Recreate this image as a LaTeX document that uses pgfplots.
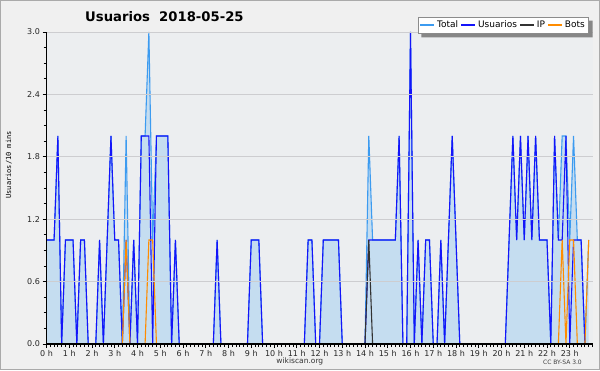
\documentclass[border=0pt]{standalone}
\usepackage{pgfplots}
\pgfplotsset{compat=1.18}
\usepackage{pgfplotstable}
\usepackage{fontspec}
\setmainfont{DejaVu Sans}
\setmonofont{DejaVu Sans Mono}
\usetikzlibrary{calc}
\definecolor{outerbg}{RGB}{240,240,240}
\definecolor{plotbg}{RGB}{236,238,240}
\definecolor{areafill}{RGB}{197,221,240}
\definecolor{totalc}{RGB}{60,155,240}
\definecolor{usuc}{RGB}{20,20,250}
\definecolor{ipc}{RGB}{50,50,50}
\definecolor{botc}{RGB}{255,140,0}
\definecolor{gridc}{RGB}{205,205,208}
\definecolor{borderc}{RGB}{170,170,170}
\definecolor{shadowc}{RGB}{135,135,135}
\pgfplotstableread{
i u p b t
0 1 0 0 1
1 1 0 0 1
2 1 0 0 1
3 2 0 0 2
4 0 0 0 0
5 1 0 0 1
6 1 0 0 1
7 1 0 0 1
8 0 0 0 0
9 1 0 0 1
10 1 0 0 1
11 0 0 0 0
12 0 0 0 0
13 0 0 0 0
14 1 0 0 1
15 0 0 0 0
16 1 0 0 1
17 2 0 0 2
18 1 0 0 1
19 1 0 0 1
20 0 0 0 0
21 1 0 1 2
22 0 0 0 0
23 1 0 0 1
24 0 0 0 0
25 2 0 0 2
26 2 0 0 2
27 2 0 1 3
28 0 0 1 1
29 2 0 0 2
30 2 0 0 2
31 2 0 0 2
32 2 0 0 2
33 0 0 0 0
34 1 0 0 1
35 0 0 0 0
36 0 0 0 0
37 0 0 0 0
38 0 0 0 0
39 0 0 0 0
40 0 0 0 0
41 0 0 0 0
42 0 0 0 0
43 0 0 0 0
44 0 0 0 0
45 1 0 0 1
46 0 0 0 0
47 0 0 0 0
48 0 0 0 0
49 0 0 0 0
50 0 0 0 0
51 0 0 0 0
52 0 0 0 0
53 0 0 0 0
54 1 0 0 1
55 1 0 0 1
56 1 0 0 1
57 0 0 0 0
58 0 0 0 0
59 0 0 0 0
60 0 0 0 0
61 0 0 0 0
62 0 0 0 0
63 0 0 0 0
64 0 0 0 0
65 0 0 0 0
66 0 0 0 0
67 0 0 0 0
68 0 0 0 0
69 1 0 0 1
70 1 0 0 1
71 0 0 0 0
72 0 0 0 0
73 1 0 0 1
74 1 0 0 1
75 1 0 0 1
76 1 0 0 1
77 1 0 0 1
78 0 0 0 0
79 0 0 0 0
80 0 0 0 0
81 0 0 0 0
82 0 0 0 0
83 0 0 0 0
84 0 0 0 0
85 1 1 0 2
86 1 0 0 1
87 1 0 0 1
88 1 0 0 1
89 1 0 0 1
90 1 0 0 1
91 1 0 0 1
92 1 0 0 1
93 2 0 0 2
94 0 0 0 0
95 0 0 0 0
96 3 0 0 3
97 0 0 0 0
98 1 0 0 1
99 0 0 0 0
100 1 0 0 1
101 1 0 0 1
102 0 0 0 0
103 0 0 0 0
104 1 0 0 1
105 0 0 0 0
106 1 0 0 1
107 2 0 0 2
108 1 0 0 1
109 0 0 0 0
110 0 0 0 0
111 0 0 0 0
112 0 0 0 0
113 0 0 0 0
114 0 0 0 0
115 0 0 0 0
116 0 0 0 0
117 0 0 0 0
118 0 0 0 0
119 0 0 0 0
120 0 0 0 0
121 0 0 0 0
122 1 0 0 1
123 2 0 0 2
124 1 0 0 1
125 2 0 0 2
126 1 0 0 1
127 2 0 0 2
128 1 0 0 1
129 2 0 0 2
130 1 0 0 1
131 1 0 0 1
132 1 0 0 1
133 0 0 0 0
134 2 0 0 2
135 1 0 0 1
136 1 0 1 2
137 2 0 0 2
138 0 0 1 1
139 1 0 1 2
140 1 0 0 1
141 1 0 0 1
142 0 0 0 0
143 0 0 1 1
}\datatable
\begin{document}
\begin{tikzpicture}[x=1pt,y=1pt]
\fill[outerbg] (0,0) rectangle (600,370);
\draw[borderc, line width=1pt] (0.5,0.5) rectangle (599.5,369.5);
\begin{axis}[
  at={(46.5pt,26pt)}, anchor=south west,
  scale only axis, width=546pt, height=312pt,
  xmin=0, xmax=144, ymin=0, ymax=3,
  axis on top,
  axis x line*=bottom, axis y line*=left,
  axis line style={black, line width=1.1pt, -},
  axis background/.style={fill=plotbg},
  xtick={0,6,...,138},
  xticklabels={0 h,1 h,2 h,3 h,4 h,5 h,6 h,7 h,8 h,9 h,10 h,11 h,12 h,13 h,14 h,15 h,16 h,17 h,18 h,19 h,20 h,21 h,22 h,23 h},
  minor xtick={0,1,...,144},
  ytick={0,0.6,1.2,1.8,2.4,3.0},
  minor ytick={0.15,0.3,0.45,0.75,0.9,1.05,1.35,1.5,1.65,1.95,2.1,2.25,2.55,2.7,2.85},
  yticklabel style={/pgf/number format/fixed, /pgf/number format/fixed zerofill, /pgf/number format/precision=1, /pgf/number format/assume math mode=true, xshift=1pt},
  ticklabel style={font=\fontsize{8}{9}\selectfont, text=black!85},
  xticklabel style={yshift=1pt},
  tick align=outside,
  major tick length=4pt, minor tick length=3pt,
  tick style={black, line width=0.9pt},
  ymajorgrids, major grid style={gridc, line width=0.9pt},
  ylabel={Usuarios/10 mins},
  ylabel style={at={(axis description cs:-0.069,0.574)}, anchor=center, font=\ttfamily\fontsize{7}{8}\selectfont},
  xlabel={wikiscan.org},
  xlabel style={at={(axis description cs:0.464,-0.055)}, anchor=center, font=\fontsize{7.5}{9}\selectfont, text=black!80},
  title={Usuarios\ \ 2018-05-25},
  title style={at={(axis description cs:0.216,1.03)}, anchor=center, font=\bfseries\fontsize{13.2}{15}\selectfont},
  legend columns=-1,
  legend style={name=leg, at={(axis description cs:0.993,1.048)}, anchor=north east,
    font=\fontsize{9}{10}\selectfont, draw=gray!90, fill=white, line width=0.8pt,
    inner xsep=1.5pt, inner ysep=1.6pt,
    /tikz/every even column/.append style={column sep=0.5pt}},
  legend image code/.code={\draw[#1, line width=1.4pt] (0pt,0pt) -- (14pt,0pt); \path (0pt,-3.3pt);},
  clip=false,
]
\addplot[fill=areafill, draw=none, forget plot] table[x=i, y=t] {\datatable} \closedcycle;
\addplot[totalc, line width=1.1pt] table[x=i, y=t] {\datatable};
\addlegendentry{Total}
\addplot[usuc, line width=1.1pt] table[x=i, y=u] {\datatable};
\addlegendentry{Usuarios}
\addplot[ipc, line width=1.1pt] table[x=i, y=p] {\datatable};
\addlegendentry{IP}
\addplot[botc, line width=1.1pt] table[x=i, y=b] {\datatable};
\addlegendentry{Bots}
\node[font=\fontsize{6}{7}\selectfont, text=black!75] at (axis description cs:0.945,-0.058) {CC BY-SA 3.0};
\end{axis}
\path let \p1=(leg.north east), \p2=(leg.south west) in
  [fill=shadowc] (\x1+0.4pt,\y1-3.5pt) rectangle (\x1+4pt,\y2-4pt)
  [fill=shadowc] (\x2+3.5pt,\y2-0.4pt) rectangle (\x1+4pt,\y2-4pt);
\pgfresetboundingbox
\path (0,0) rectangle (600,370);
\end{tikzpicture}
\end{document}
